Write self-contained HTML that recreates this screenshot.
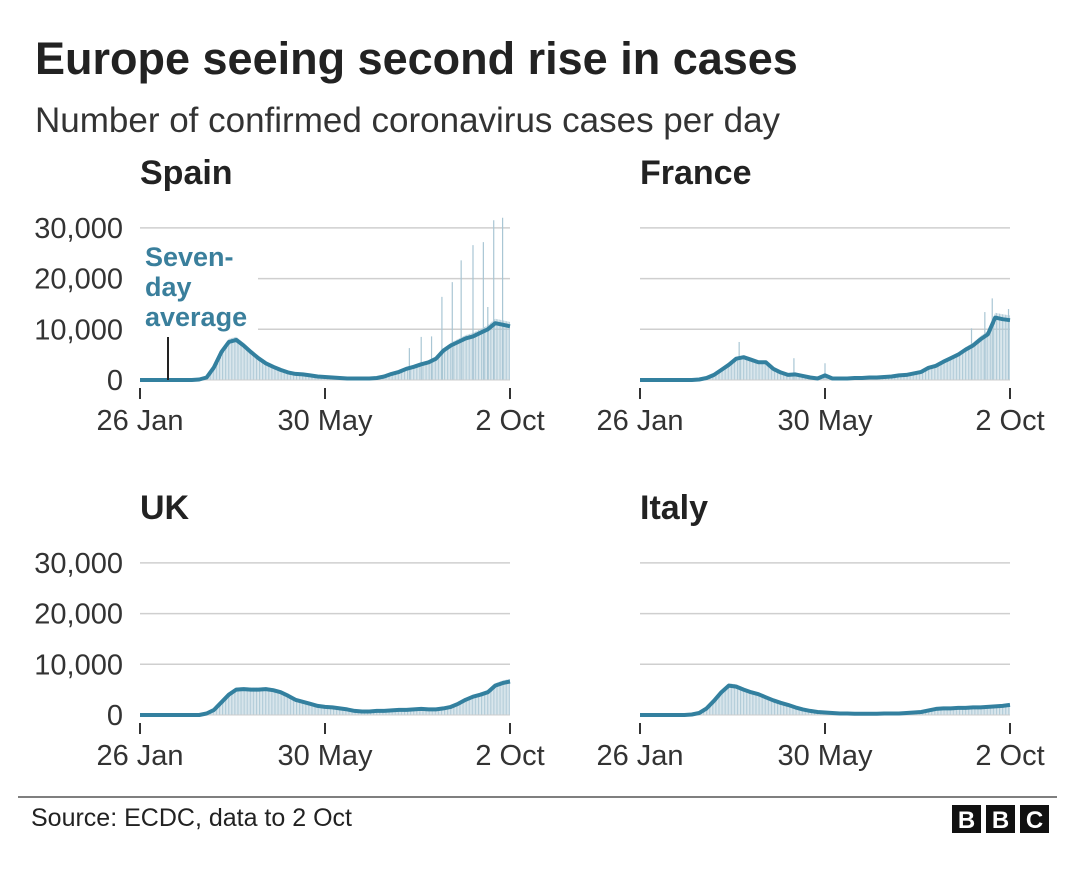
<!DOCTYPE html>
<html><head><meta charset="utf-8">
<style>
body{margin:0;background:#fff;}
svg{display:block;font-family:"Liberation Sans",Arial,sans-serif;}
</style></head>
<body>
<svg id="chart" width="1080" height="871" viewBox="0 0 1080 871">
<defs>
<pattern id="bars" patternUnits="userSpaceOnUse" width="1.48" height="10">
<rect x="0" y="0" width="0.9" height="10" fill="#a9c6d4"/>
</pattern>
</defs>
<text x="35" y="74" font-size="45" font-weight="bold" fill="#222">Europe seeing second rise in cases</text>
<text x="35" y="132" font-size="35" fill="#333">Number of confirmed coronavirus cases per day</text>
<g id="panels"></g>
<line x1="18" y1="797" x2="1057" y2="797" stroke="#555" stroke-width="1.5"/>
<text x="31" y="826" font-size="25" fill="#222">Source: ECDC, data to 2 Oct</text>
<g>
<rect x="952" y="805" width="29" height="28" fill="#111"/>
<rect x="986" y="805" width="29" height="28" fill="#111"/>
<rect x="1020" y="805" width="29" height="28" fill="#111"/>
<text x="966.5" y="828" font-size="24" font-weight="bold" fill="#fff" text-anchor="middle">B</text>
<text x="1000.5" y="828" font-size="24" font-weight="bold" fill="#fff" text-anchor="middle">B</text>
<text x="1034.5" y="828" font-size="24" font-weight="bold" fill="#fff" text-anchor="middle">C</text>
</g>
</svg>
<script>
// Seven-day averages (thousands), sampled every 5 days from 26 Jan (day 0) to 2 Oct (day 250)
const spainAvg=[0,0,0,0,0,0,0,0,0.1,0.5,2.5,5.5,7.5,7.9,6.8,5.5,4.3,3.3,2.6,2.0,1.5,1.2,1.1,0.9,0.7,0.6,0.5,0.4,0.3,0.3,0.3,0.3,0.4,0.7,1.2,1.6,2.2,2.6,3.1,3.5,4.2,5.8,6.8,7.5,8.2,8.6,9.3,10.0,11.2,10.9,10.6];
const franceAvg=[0,0,0,0,0,0,0,0,0.1,0.4,1.0,2.0,3.0,4.2,4.5,4.0,3.5,3.5,2.2,1.5,1.0,1.1,0.8,0.5,0.3,0.9,0.3,0.3,0.3,0.4,0.4,0.5,0.5,0.6,0.7,0.9,1.0,1.3,1.6,2.4,2.8,3.6,4.3,5.0,6.0,6.8,8.0,9.0,12.3,12.0,11.8];
const ukAvg=[0,0,0,0,0,0,0,0,0,0.3,1.0,2.5,4.0,5.0,5.1,5.0,5.0,5.1,4.9,4.5,3.8,3.0,2.6,2.2,1.8,1.6,1.5,1.3,1.1,0.8,0.7,0.7,0.8,0.8,0.9,1.0,1.0,1.1,1.2,1.1,1.1,1.3,1.6,2.2,3.0,3.6,4.0,4.5,5.8,6.3,6.6];
const italyAvg=[0,0,0,0,0,0,0,0.1,0.4,1.3,2.8,4.5,5.8,5.6,5.0,4.5,4.1,3.5,2.9,2.4,2.0,1.5,1.1,0.8,0.6,0.5,0.4,0.3,0.3,0.25,0.25,0.25,0.25,0.3,0.3,0.3,0.4,0.5,0.6,0.9,1.2,1.3,1.3,1.4,1.4,1.5,1.5,1.6,1.7,1.8,2.0];
// Tall daily reports (day index, thousands)
const spainSpikeDays=[182,190,197,204,211,217,225,232,235,239,245];
const spainSpikeVals=[6.3,8.5,8.6,16.4,19.3,23.6,26.6,27.2,14.4,31.5,32.0];
const franceSpikeDays=[67,104,125,224,233,238,249];
const franceSpikeVals=[7.5,4.3,3.3,10.2,13.4,16.1,14.0];
const ukSpikeDays=[];const ukSpikeVals=[];
const italySpikeDays=[];const italySpikeVals=[];
const yTicks=[0,10,20,30];
const yTickLabels=["0","10,000","20,000","30,000"];
const xTickDays=[0,125,250];
const xTickLabels=["26 Jan","30 May","2 Oct"];
const sampleStep=5;

const NS="http://www.w3.org/2000/svg";
const root=document.getElementById('panels');
function mk(tag,attrs,parent){const e=document.createElementNS(NS,tag);for(const k in attrs)e.setAttribute(k,attrs[k]);parent.appendChild(e);return e;}

const panels=[
 {name:'spain',title:'Spain',x0:140,y0:380,avg:spainAvg,sd:spainSpikeDays,sv:spainSpikeVals,labels:true,note:true},
 {name:'france',title:'France',x0:640,y0:380,avg:franceAvg,sd:franceSpikeDays,sv:franceSpikeVals,labels:false},
 {name:'uk',title:'UK',x0:140,y0:715,avg:ukAvg,sd:ukSpikeDays,sv:ukSpikeVals,labels:true},
 {name:'italy',title:'Italy',x0:640,y0:715,avg:italyAvg,sd:italySpikeDays,sv:italySpikeVals,labels:false}
];
panels.forEach(p=>{
 const g=mk('g',{},root);
 
 
 const W=370,kpx=5.07;
 const xs=d=>p.x0+d*W/250;
 const ys=v=>p.y0-v*kpx;
 const t=mk('text',{x:p.x0,y:p.y0-196,'font-size':34,'font-weight':'bold',fill:'#222'},g);
 t.textContent=p.title;
 
 
 yTicks.forEach((v,i)=>{
  if(v>0){
   const gx1=(p.note&&v<30)?258:p.x0;
   const gl=mk('line',{x1:gx1,x2:p.x0+W,y1:ys(v),y2:ys(v),stroke:'#cfcfcf','stroke-width':1.5},g);
   
   
  }
  if(p.labels){
   const tl=mk('text',{x:123,y:ys(v)+10,'font-size':29,fill:'#333','text-anchor':'end'},g);
   tl.textContent=yTickLabels[i];
   
   
  }
 });
 xTickDays.forEach((d,i)=>{
  const tk=mk('line',{x1:xs(d),x2:xs(d),y1:p.y0+8,y2:p.y0+19,stroke:'#333','stroke-width':2},g);
  
  
  const tl=mk('text',{x:xs(d),y:p.y0+50,'font-size':29,fill:'#333','text-anchor':'middle'},g);
  tl.textContent=xTickLabels[i];
  
  
 });
 let pts=p.avg.map((v,i)=>xs(i*sampleStep).toFixed(1)+','+ys(v*1.08).toFixed(1));
 const area=mk('polygon',{points:xs(0)+','+p.y0+' '+pts.join(' ')+' '+xs(250)+','+p.y0,fill:'url(#bars)'},g);
 
 
 p.sd.forEach((d,i)=>{
  const s=mk('line',{x1:xs(d),x2:xs(d),y1:p.y0,y2:ys(p.sv[i]),stroke:'#a9c6d4','stroke-width':1.2},g);
  
  
 });
 const zl=mk('line',{x1:p.x0,x2:p.x0+W,y1:p.y0,y2:p.y0,stroke:'#ccc','stroke-width':1},g);
 
 
 const line=mk('polyline',{points:p.avg.map((v,i)=>xs(i*sampleStep).toFixed(1)+','+ys(v).toFixed(1)).join(' '),fill:'none',stroke:'#33809f','stroke-width':4,'stroke-linejoin':'round'},g);
 
 
 if(p.note){
  const ml=mk('line',{x1:168,x2:168,y1:337,y2:380,stroke:'#222','stroke-width':2},g);
  
  
  ['Seven-','day','average'].forEach((s,i)=>{
   const a=mk('text',{x:145,y:266+i*30,'font-size':27,'font-weight':'bold',fill:'#3a7f9c'},g);
   a.textContent=s;
   
   
  });
 }
});
</script>
</body></html>
